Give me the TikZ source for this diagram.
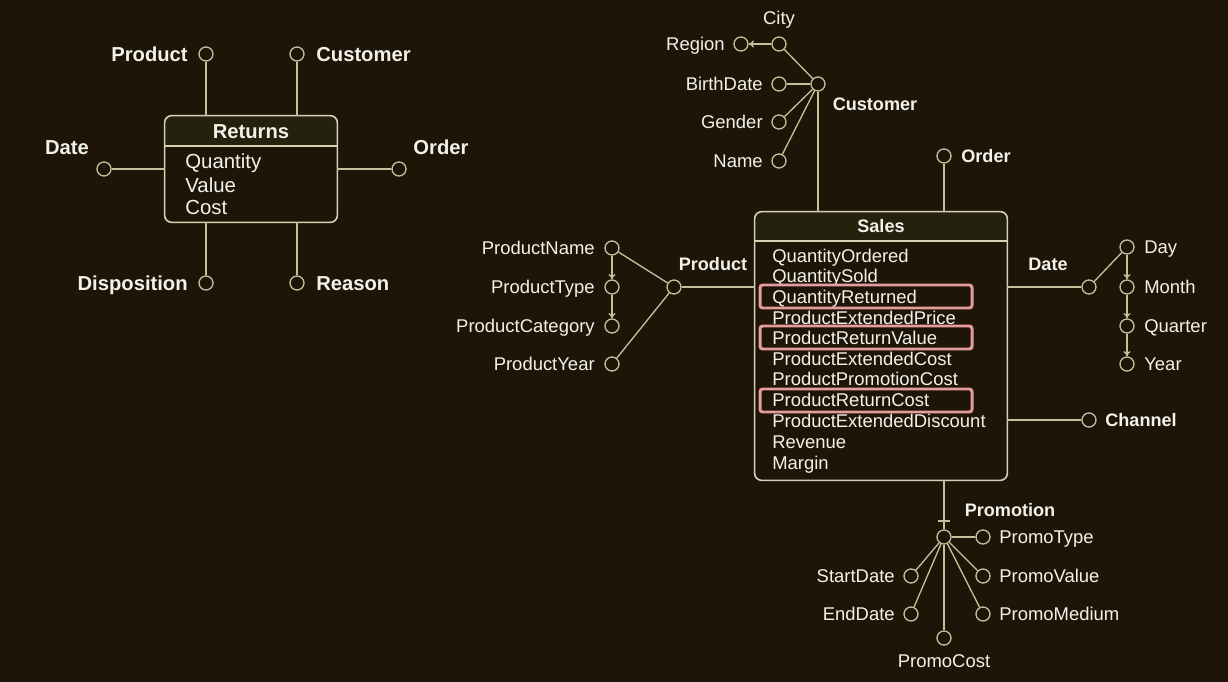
\documentclass[tikz,border=0pt]{standalone}
\usepackage{fontspec}
\setmainfont{Liberation Sans}
\usetikzlibrary{arrows.meta}
\definecolor{bg}{HTML}{1E1508}
\definecolor{linec}{HTML}{C6C09A}
\definecolor{boxc}{HTML}{D6D2B6}
\definecolor{txt}{HTML}{F2F2EA}
\definecolor{hdr}{HTML}{24210D}
\definecolor{hil}{HTML}{E79C9C}
\begin{document}
\begin{tikzpicture}[x=0.02cm,y=-0.02cm,
  font=\fontsize{10.5}{12}\selectfont,
  every node/.style={text=txt},
  lbl/.style={inner sep=0pt, text height=7.6pt, text depth=0pt},
  blbl/.style={lbl, font=\fontsize{10.3}{12}\selectfont\bfseries},
  rlbl/.style={inner sep=0pt, text height=8.3pt, text depth=0pt, font=\fontsize{11.6}{13}\selectfont},
  rblbl/.style={rlbl, font=\fontsize{11.5}{13}\selectfont\bfseries},
  dot/.style={circle, draw=linec, line width=0.75pt, minimum size=0.28cm, inner sep=0pt},
  conn/.style={draw=linec, line width=0.75pt},
  arr/.style={conn, -{To[length=3pt,width=4pt]}},
  boxline/.style={draw=boxc, line width=0.9pt, rounded corners=4pt},
  hiline/.style={draw=hil, line width=1.7pt, rounded corners=1.5pt}]
\fill[bg] (0,0) rectangle (1228,682);
\useasboundingbox (0,0) rectangle (1228,682);

% ---------------- Returns ----------------
\node[inner sep=0pt, minimum width={172*0.02cm}, minimum height={106*0.02cm}] (returns) at (251,169) {};
\begin{scope}
\clip[rounded corners=4pt] (returns.south west) rectangle (returns.north east);
\fill[hdr] (returns.north west) rectangle (337,146);
\end{scope}
\draw[boxline] (returns.south west) rectangle (returns.north east);
\draw[draw=boxc, line width=0.9pt] (165,146) -- (337,146);
\node[rblbl] (rtitle) at (251,131) {Returns};
\node[rlbl, anchor=west] (rq) at (185,161) {Quantity};
\node[rlbl, anchor=west] (rv) at (185,185) {Value};
\node[rlbl, anchor=west] (rc) at (185,207) {Cost};

\node[dot] (rprod) at (206,54) {};
\node[dot] (rcust) at (297,54) {};
\node[dot] (rdate) at (104,169) {};
\node[dot] (rord) at (399,169) {};
\node[dot] (rdisp) at (206,283) {};
\node[dot] (rreas) at (297,283) {};
\node[rblbl, anchor=east] (lrprod) at (188,54) {Product};
\node[rblbl, anchor=west] (lrcust) at (316,54) {Customer};
\node[rblbl] (lrdate) at (67,147) {Date};
\node[rblbl] (lrord) at (441,147) {Order};
\node[rblbl, anchor=east] (lrdisp) at (188,283) {Disposition};
\node[rblbl, anchor=west] (lrreas) at (316,283) {Reason};
\draw[conn] (rprod) -- (returns.north -| rprod);
\draw[conn] (rcust) -- (returns.north -| rcust);
\draw[conn] (rdate) -- (returns.west |- rdate);
\draw[conn] (rord) -- (returns.east |- rord);
\draw[conn] (rdisp) -- (returns.south -| rdisp);
\draw[conn] (rreas) -- (returns.south -| rreas);

% ---------------- Sales ----------------
\node[inner sep=0pt, minimum width={252*0.02cm}, minimum height={268*0.02cm}] (sales) at (881,346) {};
\begin{scope}
\clip[rounded corners=4pt] (sales.south west) rectangle (sales.north east);
\fill[hdr] (sales.north west) rectangle (1007,241);
\end{scope}
\draw[boxline] (sales.south west) rectangle (sales.north east);
\draw[draw=boxc, line width=0.9pt] (755,241) -- (1007,241);
\node[blbl] (stitle) at (881,226) {Sales};
\node[lbl, anchor=west] (s1) at (772,256) {QuantityOrdered};
\node[lbl, anchor=west] (s2) at (772,276) {QuantitySold};
\node[lbl, anchor=west] (s3) at (772,297) {QuantityReturned};
\node[lbl, anchor=west] (s4) at (772,318) {ProductExtendedPrice};
\node[lbl, anchor=west] (s5) at (772,338) {ProductReturnValue};
\node[lbl, anchor=west] (s6) at (772,359) {ProductExtendedCost};
\node[lbl, anchor=west] (s7) at (772,379) {ProductPromotionCost};
\node[lbl, anchor=west] (s8) at (772,400) {ProductReturnCost};
\node[lbl, anchor=west] (s9) at (772,421) {ProductExtendedDiscount};
\node[lbl, anchor=west] (s10) at (772,442) {Revenue};
\node[lbl, anchor=west] (s11) at (772,463) {Margin};
\draw[hiline] (760,285) rectangle (972,308);
\draw[hiline] (760,326) rectangle (972,349);
\draw[hiline] (760,389) rectangle (972,412);

% ---------------- Customer ----------------
\node[dot] (cust) at (818,84) {};
\node[dot] (city) at (779,44) {};
\node[dot] (region) at (741,44) {};
\node[dot] (birth) at (779,84) {};
\node[dot] (gender) at (779,122) {};
\node[dot] (name) at (779,161) {};
\node[lbl] (lcity) at (779,18) {City};
\node[lbl, anchor=east] (lregion) at (725,44) {Region};
\node[lbl, anchor=east] (lbirth) at (763,84) {BirthDate};
\node[lbl, anchor=east] (lgender) at (763,122) {Gender};
\node[lbl, anchor=east] (lname) at (763,161) {Name};
\node[blbl] (lcust) at (875,104) {Customer};
\draw[arr] (city) -- (region);
\draw[conn] (cust) -- (city);
\draw[conn] (cust) -- (birth);
\draw[conn] (cust) -- (gender);
\draw[conn] (cust) -- (name);
\draw[conn] (cust) -- (sales.north -| cust);

% ---------------- Order ----------------
\node[dot] (ord) at (944,156) {};
\node[blbl, anchor=west] (lord) at (961,156) {Order};
\draw[conn] (ord) -- (sales.north -| ord);

% ---------------- Product ----------------
\node[dot] (prod) at (674,287) {};
\node[dot] (pname) at (612,248) {};
\node[dot] (ptype) at (612,287) {};
\node[dot] (pcat) at (612,326) {};
\node[dot] (pyear) at (612,364) {};
\node[lbl, anchor=east] (lpname) at (595,248) {ProductName};
\node[lbl, anchor=east] (lptype) at (595,287) {ProductType};
\node[lbl, anchor=east] (lpcat) at (595,326) {ProductCategory};
\node[lbl, anchor=east] (lpyear) at (595,364) {ProductYear};
\node[blbl] (lprod) at (713,264) {Product};
\draw[conn] (prod) -- (pname);
\draw[conn] (prod) -- (pyear);
\draw[arr] (pname) -- (ptype);
\draw[arr] (ptype) -- (pcat);
\draw[conn] (prod) -- (sales.west |- prod);

% ---------------- Date ----------------
\node[dot] (date) at (1089,287) {};
\node[dot] (day) at (1127,247) {};
\node[dot] (month) at (1127,287) {};
\node[dot] (quarter) at (1127,326) {};
\node[dot] (year) at (1127,364) {};
\node[blbl] (ldate) at (1048,264) {Date};
\node[lbl, anchor=west] (lday) at (1144,247) {Day};
\node[lbl, anchor=west] (lmonth) at (1144,287) {Month};
\node[lbl, anchor=west] (lquarter) at (1144,326) {Quarter};
\node[lbl, anchor=west] (lyear) at (1144,364) {Year};
\draw[conn] (sales.east |- date) -- (date);
\draw[conn] (date) -- (day);
\draw[arr] (day) -- (month);
\draw[arr] (month) -- (quarter);
\draw[arr] (quarter) -- (year);

% ---------------- Channel ----------------
\node[dot] (chan) at (1089,420) {};
\node[blbl, anchor=west] (lchan) at (1105,420) {Channel};
\draw[conn] (sales.east |- chan) -- (chan);

% ---------------- Promotion ----------------
\node[dot] (prom) at (944,537) {};
\node[dot] (ptyp) at (983,537) {};
\node[dot] (pval) at (983,576) {};
\node[dot] (pmed) at (983,614) {};
\node[dot] (sdate) at (911,576) {};
\node[dot] (edate) at (911,614) {};
\node[dot] (pcost) at (944,638) {};
\node[blbl] (lprom) at (1010,510) {Promotion};
\node[lbl, anchor=west] (lptyp) at (999,537) {PromoType};
\node[lbl, anchor=west] (lpval) at (999,576) {PromoValue};
\node[lbl, anchor=west] (lpmed) at (999,614) {PromoMedium};
\node[lbl, anchor=east] (lsdate) at (895,576) {StartDate};
\node[lbl, anchor=east] (ledate) at (895,614) {EndDate};
\node[lbl] (lpcost) at (944,661) {PromoCost};
\draw[conn] (sales.south -| prom) -- (prom);
\draw[conn] (938,521) -- (950,521);
\draw[conn] (prom) -- (ptyp);
\draw[conn] (prom) -- (pval);
\draw[conn] (prom) -- (pmed);
\draw[conn] (prom) -- (sdate);
\draw[conn] (prom) -- (edate);
\draw[conn] (prom) -- (pcost);
\end{tikzpicture}
\end{document}
